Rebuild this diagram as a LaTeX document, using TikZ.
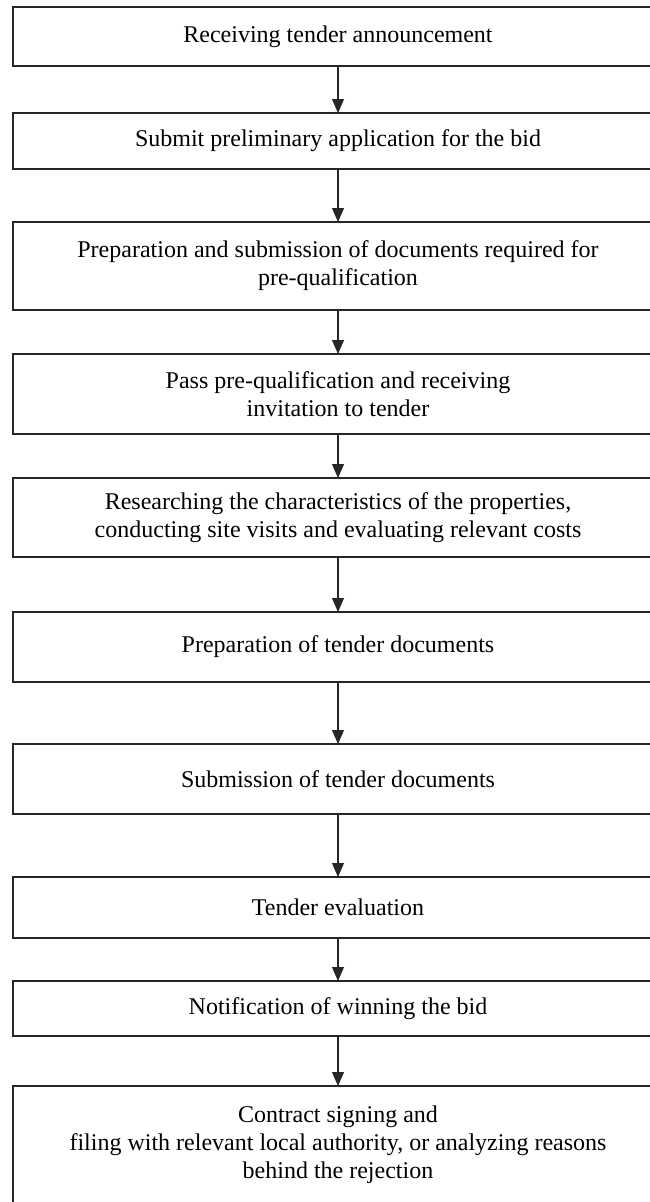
\documentclass[tikz,border=0pt]{standalone}
\usepackage{fontspec}
\setmainfont{Liberation Serif}
\usetikzlibrary{arrows.meta}

\tikzset{
	stepbox/.style={draw=black!85, line width=1.2pt, minimum width=650pt, inner sep=0pt, outer sep=0pt, align=center, font=\fontsize{24}{28}\selectfont},
	flow/.style={draw=black!85, line width=1.1pt, -{Triangle[length=14pt, width=12pt]}}
}

\begin{document}
\begin{tikzpicture}[x=1pt, y=-1pt]
		%%%%% START %%%%%
		\useasboundingbox (0, 0) rectangle (650, 1202);
		\clip (0, 0) rectangle (650, 1202);
		
		\node[stepbox, minimum height=59pt] (announce) at (338, 36.5) {Receiving tender announcement};
		\node[stepbox, minimum height=56pt] (apply) at (338, 141) {Submit preliminary application for the bid};
		\node[stepbox, minimum height=88pt] (prepq) at (338, 266) {Preparation and submission of documents required for\\ pre-qualification};
		\node[stepbox, minimum height=80pt] (invite) at (338, 394) {Pass pre-qualification and receiving\\ invitation to tender};
		\node[stepbox, minimum height=79pt] (research) at (338, 517.5) {Researching the characteristics of the properties,\\ conducting site visits and evaluating relevant costs};
		\node[stepbox, minimum height=70pt] (prepdoc) at (338, 647) {Preparation of tender documents};
		\node[stepbox, minimum height=70pt] (submit) at (338, 779) {Submission of tender documents};
		\node[stepbox, minimum height=61pt] (evaluate) at (338, 907.5) {Tender evaluation};
		\node[stepbox, minimum height=55pt] (notify) at (338, 1008.5) {Notification of winning the bid};
		\node[stepbox, minimum height=118pt] (contract) at (338, 1145) {Contract signing and\\ filing with relevant local authority, or analyzing reasons\\ behind the rejection};
		
		\draw[flow] (announce) -- (apply);
		\draw[flow] (apply) -- (prepq);
		\draw[flow] (prepq) -- (invite);
		\draw[flow] (invite) -- (research);
		\draw[flow] (research) -- (prepdoc);
		\draw[flow] (prepdoc) -- (submit);
		\draw[flow] (submit) -- (evaluate);
		\draw[flow] (evaluate) -- (notify);
		\draw[flow] (notify) -- (contract);
		%%%%% END %%%%%
	\end{tikzpicture}
\end{document}
